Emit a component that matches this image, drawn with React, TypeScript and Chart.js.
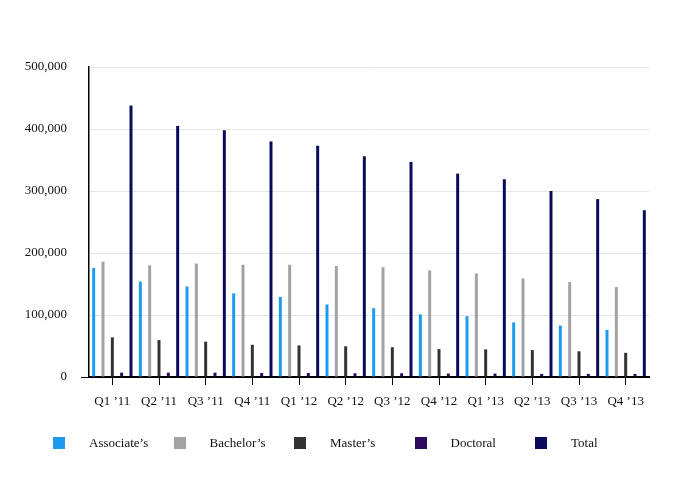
import React, { useEffect, useRef } from "react";
import { Chart, registerables } from "chart.js";

Chart.register(...registerables);

const categories = ["Q1 ’11", "Q2 ’11", "Q3 ’11", "Q4 ’11", "Q1 ’12", "Q2 ’12", "Q3 ’12", "Q4 ’12", "Q1 ’13", "Q2 ’13", "Q3 ’13", "Q4 ’13"];
const associates = [176000, 154000, 146000, 135000, 129000, 117000, 111000, 101000, 98000, 88000, 83000, 76000];
const bachelors = [186000, 180000, 183000, 181000, 181000, 179000, 177000, 172000, 167000, 159000, 153000, 145000];
const masters = [64000, 59500, 57000, 52000, 51000, 49500, 48000, 45000, 44500, 43500, 41500, 39000];
const doctoral = [7000, 7000, 7000, 6500, 6500, 6000, 6000, 5500, 5500, 5000, 5000, 5000];
const totals = [438000, 405000, 398000, 380000, 373000, 356000, 347000, 328000, 319000, 300000, 287000, 269000];
const seriesNames = ["Associate’s", "Bachelor’s", "Master’s", "Doctoral", "Total"];
const seriesColors = ["#1d9bf0", "#a3a3a3", "#333333", "#2c0a5c", "#0b0b5e"];
const yTicks = [0, 100000, 200000, 300000, 400000, 500000];

const FONT = "'Liberation Serif', 'Times New Roman', serif";

export default function App() {
  const ref = useRef<HTMLCanvasElement | null>(null);
  useEffect(() => {
    if (!ref.current) return;
    const seriesData = [associates, bachelors, masters, doctoral, totals];
    const chart = new Chart(ref.current, {
      type: "bar",
      data: {
        labels: categories,
        datasets: seriesNames.map((name, i) => ({
          label: name,
          data: seriesData[i],
          backgroundColor: seriesColors[i],
          borderWidth: 0,
          barPercentage: 0.32,
          categoryPercentage: 1,
        })),
      },
      options: {
        responsive: false,
        animation: false,
        devicePixelRatio: 1,
        layout: { padding: { left: 0, right: 33, top: 67, bottom: 0 } },
        plugins: {
          legend: { display: false },
          tooltip: { enabled: false },
        },
        scales: {
          x: {
            offset: true,
            grid: {
              offset: false,
              drawOnChartArea: false,
              drawTicks: true,
              tickLength: 8,
              tickColor: "#000",
              tickWidth: 1,
            },
            border: { display: true, color: "#000", width: 2 },
            ticks: {
              color: "#111",
              font: { family: FONT, size: 13 },
              padding: 9,
              maxRotation: 0,
              autoSkip: false,
            },
            afterFit: (scale: any) => {
              scale.height = 103;
            },
          },
          y: {
            min: 0,
            max: 500000,
            afterBuildTicks: (scale: any) => {
              scale.ticks = yTicks.map((v) => ({ value: v }));
            },
            grid: {
              color: "#e6e6e6",
              lineWidth: 1,
              drawTicks: true,
              tickLength: 8,
              tickColor: (ctx: any) => (ctx.tick && ctx.tick.value === 0 ? "#000" : "rgba(0,0,0,0)"),
            },
            border: { display: true, color: "#000", width: 1.5 },
            ticks: {
              color: "#111",
              font: { family: FONT, size: 13 },
              padding: 14,
              callback: (v: any) => Number(v).toLocaleString("en-US"),
            },
            afterFit: (scale: any) => {
              scale.width = 89;
            },
          },
        },
      },
    });
    return () => chart.destroy();
  }, []);

  return (
    <div style={{ position: "absolute", left: 0, top: 0, width: 682, height: 480, background: "#fff" }}>
      <canvas ref={ref} width={682} height={480} style={{ position: "absolute", left: 0, top: 0 }} />
      {seriesNames.map((name, i) => (
        <div
          key={name}
          style={{
            position: "absolute",
            left: 53 + i * 120.5,
            top: 436,
            height: 14,
            display: "flex",
            alignItems: "center",
            fontFamily: FONT,
            fontSize: 13,
            color: "#111",
            whiteSpace: "nowrap",
          }}
        >
          <span style={{ display: "inline-block", width: 12, height: 12, background: seriesColors[i] }} />
          <span style={{ marginLeft: 24 }}>{name}</span>
        </div>
      ))}
    </div>
  );
}
